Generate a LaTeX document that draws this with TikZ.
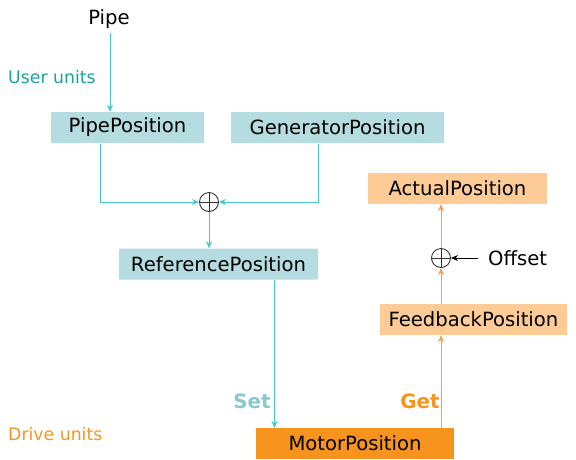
\documentclass[tikz,border=0pt]{standalone}
\usepackage{fontspec}
\setmainfont{DejaVu Sans}
\usetikzlibrary{arrows.meta}
\definecolor{tealbox}{HTML}{B5DCE0}
\definecolor{tealline}{HTML}{45C8CC}
\definecolor{tealtext}{HTML}{1AA39C}
\definecolor{settext}{HTML}{88C8D0}
\definecolor{orangebox}{HTML}{FDCB96}
\definecolor{motorbox}{HTML}{F7941D}
\definecolor{orangeline}{HTML}{F79A4A}
\tikzset{
  lbl/.style={inner sep=0pt, font=\fontsize{19.6}{21}\selectfont, text=black},
  tbox/.style={lbl, fill=tealbox, rounded corners=1pt, minimum height=31pt},
  obox/.style={lbl, fill=orangebox, minimum height=31pt},
  mbox/.style={lbl, fill=motorbox, minimum height=31pt},
  sumnode/.style={circle, draw=black!80, line width=0.9pt, minimum size=19pt, inner sep=0pt},
  tarrow/.style={draw=tealline, line width=1pt, -{Stealth[length=7pt,width=6pt]}},
  oarrow/.style={draw=orangeline, line width=1pt, -{Stealth[length=7pt,width=6pt]}},
  karrow/.style={draw=black, line width=0.9pt, -{Stealth[length=7pt,width=6pt]}},
  unit/.style={inner sep=0pt, anchor=west, font=\fontsize{17.3}{19}\selectfont},
  setget/.style={inner sep=0pt, font=\bfseries\fontsize{19.8}{21}\selectfont}
}
\begin{document}
\begin{tikzpicture}[x=1pt,y=-1pt]
\useasboundingbox (0,0) rectangle (576,459);
% nodes
\node[lbl] (pipe) at (109,19) {Pipe};
\node[unit, text=tealtext] (uu) at (8,77) {User units};
\node[unit, text=motorbox] (du) at (8,434) {Drive units};
\node[tbox, minimum width=153pt] (pp) at (127.5,127.5) {PipePosition};
\node[tbox, minimum width=213pt] (gp) at (337.5,127.5) {GeneratorPosition};
\node[sumnode] (s1) at (209,202) {};
\draw[black!80, line width=0.9pt] (s1.north) -- (s1.south) (s1.west) -- (s1.east);
\node[tbox, minimum width=199pt] (rp) at (218.5,264) {ReferencePosition};
\node[obox, minimum width=179pt] (ap) at (457.5,188.5) {ActualPosition};
\node[sumnode] (s2) at (441,258) {};
\draw[black!80, line width=0.9pt] (s2.north) -- (s2.south) (s2.west) -- (s2.east);
\node[lbl, anchor=west] (off) at (488,258) {Offset};
\node[obox, minimum width=187pt] (fp) at (473.5,319.5) {FeedbackPosition};
\node[mbox, minimum width=198pt] (mp) at (355,443) {MotorPosition};
\node[setget, text=settext] (set) at (252,401) {Set};
\node[setget, text=motorbox] (get) at (420,401) {Get};
% coordinates
\coordinate (pipebot) at (110,33);
\coordinate (ppout) at (100,143.5);
\coordinate (gpout) at (318,143.5);
\coordinate (rpout) at (274.5,280);
\coordinate (mpin) at (274.5,428);
\coordinate (mpout) at (441,428);
\coordinate (offl) at (478,258);
% connectors
\draw[tarrow] (pipebot) -- (pipebot |- pp.north);
\draw[tarrow] (ppout) |- (s1.west);
\draw[tarrow] (gpout) |- (s1.east);
\draw[tarrow] (s1.south) -- (rp.north -| s1.south);
\draw[tarrow] (rpout) -- (mpin);
\draw[oarrow] (mpout) -- (mpout |- fp.south);
\draw[oarrow] (mpout |- fp.north) -- (s2.south);
\draw[oarrow] (s2.north) -- (s2.north |- ap.south);
\draw[karrow] (offl) -- (s2.east);
\end{tikzpicture}
\end{document}
